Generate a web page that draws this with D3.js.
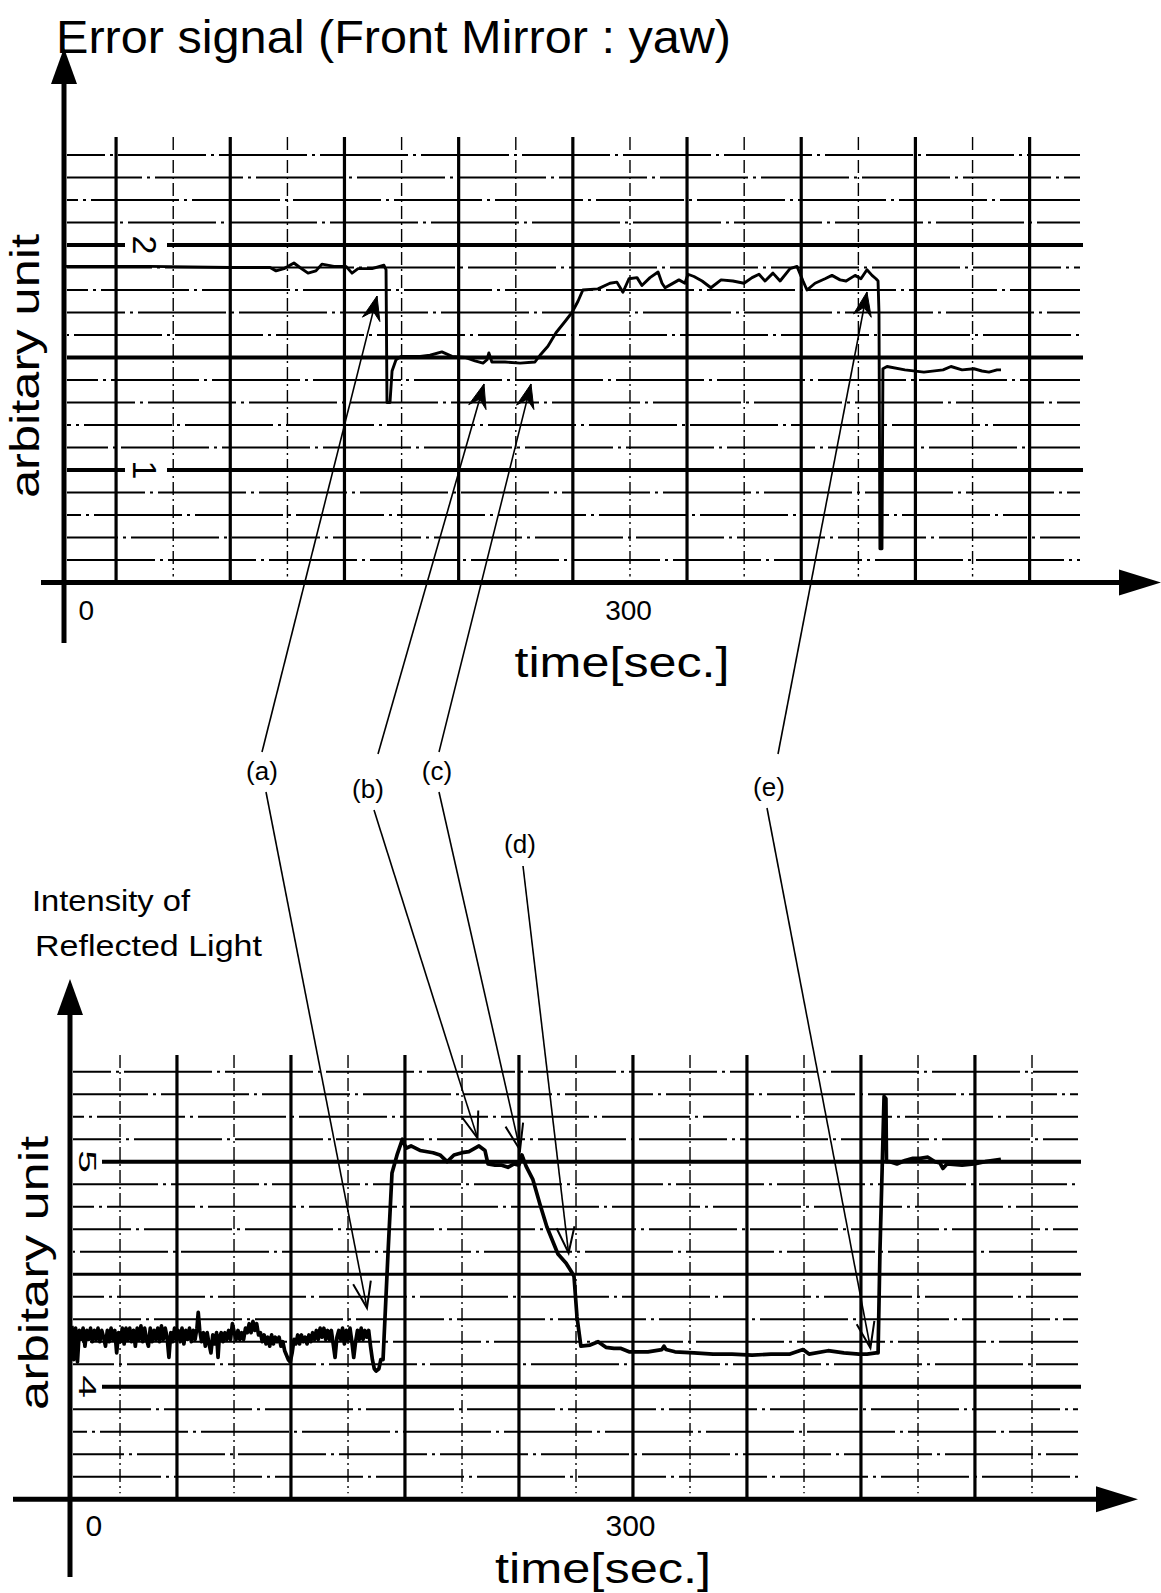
<!DOCTYPE html>
<html>
<head>
<meta charset="utf-8">
<script src="https://cdn.jsdelivr.net/npm/d3@7"></script>
<style>
  body { margin: 0; background: #fff; }
  svg { display: block; }
  text { font-family: "Liberation Sans", Arial, Helvetica, sans-serif; fill: #000; }
</style>
</head>
<body>
<div id="chart"></div>
<script>
// ---- data (time in sec, value in arbitrary units) ----
const topTrace = [
  [0.5,1.905],[45.7,1.905],[88.3,1.9],[109.6,1.9],[112.8,1.885],[117,1.895],[122.3,1.92],[125.5,1.9],
  [129.8,1.875],[134,1.885],[137.2,1.915],[143.6,1.905],[150,1.905],[153.2,1.875],[156.4,1.895],
  [163.8,1.895],[170.2,1.91],[171.3,1.89],[171.8,1.3],[173.4,1.3],[174.5,1.44],[176.6,1.49],
  [179.3,1.505],[189.4,1.505],[194.7,1.51],[201,1.525],[206.4,1.505],[213.3,1.5],[218.6,1.485],
  [222.9,1.475],[225,1.49],[226,1.52],[227.6,1.48],[234.6,1.48],[242.6,1.475],[250.5,1.48],
  [253.2,1.51],[257.4,1.55],[261.7,1.61],[266.5,1.66],[270.2,1.7],[273.4,1.75],[276,1.8],[284,1.805],
  [290.4,1.83],[294.1,1.835],[297.3,1.79],[300.5,1.85],[304.8,1.855],[307.4,1.82],[311.7,1.855],
  [316,1.88],[318.1,1.83],[319.7,1.81],[322.9,1.825],[327.1,1.845],[330.3,1.83],[331.9,1.87],
  [335.1,1.86],[339.4,1.84],[344.1,1.81],[349.5,1.845],[355.8,1.84],[361.7,1.83],[366,1.855],
  [369.7,1.87],[372.9,1.84],[377.1,1.875],[380.9,1.84],[386.2,1.895],[389.9,1.905],[393.1,1.84],
  [395.2,1.8],[399.5,1.83],[404.8,1.85],[408.5,1.865],[412.8,1.845],[416,1.84],[420.8,1.865],
  [423.9,1.85],[427.1,1.89],[429.8,1.865],[431.9,1.85],[433,1.84],[433.5,1.7],[434,0.65],[435.1,0.65],
  [435.6,1.45],[437.8,1.46],[447.3,1.445],[457.4,1.435],[467.6,1.445],[471.8,1.46],[477.7,1.445],
  [484,1.45],[488.3,1.44],[492,1.435],[496.3,1.445],[498.4,1.445]
];

const bottomTrace = [
  [1,4.27],[2,4.12],[3,4.26],[4,4.11],[5,4.25],[6,4.21],[7,4.26],[8,4.18],[9,4.25],[10,4.21],
  [11,4.26],[12,4.2],[13,4.25],[14,4.21],[15,4.26],[16,4.2],[17,4.25],[18,4.22],[19,4.18],[20,4.25],
  [21,4.2],[22,4.26],[23,4.21],[24,4.25],[25,4.15],[26,4.24],[27,4.2],[28,4.26],[29,4.19],[30,4.26],
  [31,4.21],[32,4.26],[33,4.2],[34,4.25],[35,4.18],[36,4.26],[37,4.21],[38,4.27],[39,4.2],[40,4.26],
  [41,4.21],[42,4.18],[43,4.26],[44,4.2],[45,4.25],[46,4.21],[47,4.26],[48,4.2],[49,4.27],[50,4.21],
  [51,4.26],[52,4.22],[53,4.13],[54,4.24],[55,4.2],[56,4.26],[57,4.21],[58,4.25],[59,4.2],[60,4.26],
  [61,4.19],[62,4.25],[63,4.21],[64,4.26],[65,4.2],[66,4.25],[67,4.21],[68,4.26],[68.7,4.33],[69.5,4.25],
  [70.5,4.2],[71.5,4.24],[72.5,4.18],[73.5,4.24],[74.5,4.19],[75.5,4.15],[76.5,4.23],[77.5,4.19],
  [78.5,4.24],[79.3,4.13],[80,4.22],[81,4.24],[82,4.2],[83,4.24],[84,4.21],[85,4.25],[86,4.21],
  [87,4.28],[88,4.24],[89,4.21],[90,4.25],[91,4.21],[92,4.24],[93,4.21],[94,4.26],[95,4.24],[96,4.28],
  [97,4.24],[98,4.29],[99,4.25],[100,4.28],[101,4.23],[102,4.24],[103,4.2],[104,4.23],[105,4.19],
  [106,4.22],[107,4.18],[108,4.23],[109,4.19],[110,4.22],[111,4.2],[112,4.22],[113,4.18],[114,4.2],
  [115,4.16],[116,4.14],[117,4.12],[118,4.11],[119,4.15],[120,4.21],[121,4.19],[122,4.23],[123,4.19],
  [124,4.23],[125,4.2],[126,4.22],[127,4.19],[128,4.23],[129,4.2],[130,4.24],[131,4.21],[132,4.25],
  [133,4.21],[134,4.26],[135,4.22],[136,4.26],[137,4.21],[138,4.25],[139,4.21],[140,4.25],[141,4.19],
  [142,4.13],[143,4.22],[144,4.25],[145,4.21],[146,4.26],[147,4.19],[148,4.25],[149,4.21],[150,4.26],
  [151,4.2],[152,4.13],[153,4.2],[154,4.25],[155,4.21],[156,4.26],[157,4.21],[158,4.25],[159,4.22],
  [160,4.25],[161,4.18],[162,4.12],[163,4.08],[164,4.07],[165.5,4.08],[166.5,4.12],
  [167.7,4.12],[170.4,4.6],[172.5,4.95],[175.2,5.03],[178.1,5.1],[180,5.06],[182.7,5.07],[187.5,5.05],
  [194.5,5.04],[198.2,5.03],[202,5.0],[205.7,5.03],[210,5.04],[213.7,5.045],[217,5.06],[219.1,5.07],
  [222.3,5.05],[223.9,4.99],[227.7,4.985],[230.9,4.985],[234.6,4.975],[237.9,4.99],[240.5,4.985],
  [242.1,5.03],[244.3,4.98],[248,4.92],[251.8,4.81],[255.5,4.71],[261.4,4.59],[265.7,4.55],
  [268.7,4.51],[270,4.49],[271.6,4.31],[273.7,4.18],[278.6,4.185],[282.9,4.2],[287.1,4.175],
  [291.4,4.17],[295.2,4.17],[299.5,4.155],[309.6,4.155],[317.1,4.165],[318.2,4.18],[319.3,4.165],
  [324.1,4.155],[334.3,4.15],[344.5,4.145],[354.6,4.145],[365.4,4.14],[375.5,4.145],[385.7,4.145],
  [392.7,4.165],[395.9,4.145],[406.1,4.16],[414.6,4.15],[422.7,4.145],[427,4.145],[431.8,4.15],
  [432.9,4.15],[433.9,4.6],[435.5,5.1],[436.1,5.29],[437.1,5.28],[437.4,5.0],[439.3,5.0],[443,4.99],
  [447.3,5.005],[451.6,5.015],[455.4,5.015],[459.6,5.02],[463.4,5.0],[466,4.995],[467.6,4.97],
  [469.8,4.99],[477.9,4.985],[484.3,4.99],[490.2,5.0],[498.7,5.01]
];

const timeTicks = [0, 300];
const timeTickLabels = ["0", "300"];
const topLevelMarks = [2, 1];
const topLevelLabels = ["2", "1"];
const bottomLevelMarks = [5, 4];
const bottomLevelLabels = ["5", "4"];

const annLabels = ["(a)", "(b)", "(c)", "(d)", "(e)"];
// arrow tips, [time, value] on each chart
const annTopTips = [[166.5,1.773],[223.4,1.382],[248.4,1.382],null,[427.1,1.791]];
const annBottomTips = [[159.1,4.35],[218.3,5.105],[241.1,5.052],[267.1,4.594],[428.8,4.172]];

// ---- layout ----
const W = 1161, H = 1593;
const annLabelPos = [[262,772],[368,790],[437,772],[520,845],[769,788]];
const annUpStart = [[262,752],[378,754],[439,752],null,[778,754]];
const annDownStart = [[266,792],[374,810],[439,792],[523,866],[767,808]];

const svg = d3.select("#chart").append("svg")
  .attr("width", W).attr("height", H);

const panels = [
  {
    x: d3.scaleLinear().domain([0, 300]).range([64, 628]),
    y: d3.scaleLinear().domain([1, 2]).range([470, 245]),
    trace: topTrace, traceW: 2.9,
    vAxis: 0.5, vTop: 2.4, majors: [1, 1.5, 2],
    gridL: 67, gridR: 1080, lineTop: 137,
    thick0: 27.7, dash0: 58.1, step: 60.74, nThick: 9, nDash: 8,
    axisX: 64, yAxisTip: 48, yAxisEnd: 643, xAxisStart: 41, xAxisTip: 1161,
    tickPad: 18, tickSize: 28, zeroDx: 14,
    levels: topLevelMarks, levelLabels: topLevelLabels, levelX: 145, levelFont: 34, levelStretch: 1,
    labelLineStart: 67,
    ylabX: 39, ylabY: 366, ylabLen: 264,
    timeX: 622, timeY: 677, timeLen: 215
  },
  {
    x: d3.scaleLinear().domain([0, 300]).range([70, 630]),
    y: d3.scaleLinear().domain([4, 5]).range([1386.7, 1161.7]),
    trace: bottomTrace, traceW: 3.7,
    vAxis: 3.5, vTop: 5.4, majors: [4, 4.5, 5],
    gridL: 73, gridR: 1078, lineTop: 1055,
    thick0: 57.3, dash0: 26.8, step: 61.07, nThick: 8, nDash: 9,
    axisX: 70, yAxisTip: 979, yAxisEnd: 1577, xAxisStart: 13, xAxisTip: 1138,
    tickPad: 16, tickSize: 30, zeroDx: 15,
    levels: bottomLevelMarks, levelLabels: bottomLevelLabels, levelX: 87, levelFont: 24, levelStretch: 1.7,
    labelLineStart: 102,
    ylabX: 48, ylabY: 1273, ylabLen: 274,
    timeX: 603, timeY: 1583, timeLen: 216
  }
];

panels.forEach((p, pi) => {
  const g = svg.append("g");
  const yAxisPx = p.y(p.vAxis);

  // chart paper: thin horizontal lines
  const levels = d3.range(Math.round(p.vAxis * 10) + 1, Math.round(p.vTop * 10) + 1).map(d => d / 10);
  const isMajor = v => p.majors.some(m => Math.abs(m - v) < 1e-6);
  g.selectAll(".hthin").data(levels.filter(v => !isMajor(v))).enter().append("line")
    .attr("x1", p.gridL).attr("x2", p.gridR)
    .attr("y1", d => p.y(d)).attr("y2", d => p.y(d))
    .attr("stroke", "#000").attr("stroke-width", 1.9)
    .attr("stroke-dasharray", "88,5,3,5")
    .attr("stroke-dashoffset", (d, i) => i * 37);

  // vertical lines
  const thickT = d3.range(p.nThick).map(k => p.thick0 + k * p.step);
  const dashT = d3.range(p.nDash).map(k => p.dash0 + k * p.step);
  g.selectAll(".vdash").data(dashT).enter().append("line")
    .attr("x1", d => p.x(d)).attr("x2", d => p.x(d))
    .attr("y1", p.lineTop).attr("y2", yAxisPx - 6)
    .attr("stroke", "#000").attr("stroke-width", 1.4)
    .attr("stroke-dasharray", "13,4,2,4");
  g.selectAll(".vthick").data(thickT).enter().append("line")
    .attr("x1", d => p.x(d)).attr("x2", d => p.x(d))
    .attr("y1", p.lineTop).attr("y2", yAxisPx)
    .attr("stroke", "#000").attr("stroke-width", 3.2);

  // major horizontal lines (labelled ones start after the digit on the lower paper)
  const labelled = v => p.levels.some(m => Math.abs(m - v) < 1e-6);
  g.selectAll(".hmajor").data(p.majors).enter().append("line")
    .attr("x1", d => labelled(d) ? p.labelLineStart : p.gridL).attr("x2", p.gridR + 3)
    .attr("y1", d => p.y(d)).attr("y2", d => p.y(d))
    .attr("stroke", "#000").attr("stroke-width", d => labelled(d) || pi === 0 ? 4 : 3);

  // level labels on the paper (rotated digits)
  p.levels.forEach((v, i) => {
    if (pi === 0) {
      g.append("rect").attr("x", p.levelX - 20).attr("y", p.y(v) - 4)
        .attr("width", 42).attr("height", 8).attr("fill", "#fff");
    }
    g.append("text")
      .attr("transform", `translate(${p.levelX},${p.y(v)}) rotate(90) scale(${p.levelStretch},1)`)
      .attr("text-anchor", "middle").attr("dominant-baseline", "central")
      .attr("font-size", p.levelFont)
      .text(p.levelLabels[i]);
  });

  // trace
  const line = d3.line().x(d => p.x(d[0])).y(d => p.y(d[1]));
  g.append("path").datum(p.trace)
    .attr("d", line)
    .attr("fill", "none").attr("stroke", "#000")
    .attr("stroke-width", p.traceW).attr("stroke-linejoin", "round");

  // axes with arrows
  g.append("line").attr("x1", p.axisX).attr("x2", p.axisX)
    .attr("y1", p.yAxisTip + 30).attr("y2", p.yAxisEnd)
    .attr("stroke", "#000").attr("stroke-width", 5);
  g.append("path")
    .attr("d", `M${p.axisX},${p.yAxisTip} L${p.axisX - 13},${p.yAxisTip + 36} L${p.axisX + 13},${p.yAxisTip + 36} Z`)
    .attr("fill", "#000");
  g.append("line").attr("x1", p.xAxisStart).attr("x2", p.xAxisTip - 40)
    .attr("y1", yAxisPx).attr("y2", yAxisPx)
    .attr("stroke", "#000").attr("stroke-width", 5);
  g.append("path")
    .attr("d", `M${p.xAxisTip},${yAxisPx} L${p.xAxisTip - 42},${yAxisPx - 13} L${p.xAxisTip - 42},${yAxisPx + 13} Z`)
    .attr("fill", "#000");

  // time ticks
  const ax = d3.axisBottom(p.x).tickValues(timeTicks)
    .tickFormat((d, i) => timeTickLabels[i]).tickSize(0).tickPadding(p.tickPad);
  const axG = g.append("g").attr("transform", `translate(0,${yAxisPx})`).call(ax);
  axG.select(".domain").remove();
  axG.selectAll("text").attr("font-size", p.tickSize)
    .attr("font-family", "Liberation Sans, Arial, sans-serif").attr("fill", "#000");
  axG.selectAll(".tick").filter(d => d === 0).select("text")
    .attr("text-anchor", "start").attr("dx", p.zeroDx);

  // axis titles
  g.append("text")
    .attr("transform", `translate(${p.ylabX},${p.ylabY}) rotate(-90)`)
    .attr("text-anchor", "middle").attr("font-size", 40)
    .attr("textLength", p.ylabLen).attr("lengthAdjust", "spacingAndGlyphs")
    .text("arbitary  unit");
  g.append("text")
    .attr("x", p.timeX - p.timeLen / 2).attr("y", p.timeY)
    .attr("font-size", 42)
    .attr("textLength", p.timeLen).attr("lengthAdjust", "spacingAndGlyphs")
    .text("time[sec.]");
});

// title and bottom y label
svg.append("text").attr("x", 56).attr("y", 53)
  .attr("font-size", 47).attr("textLength", 675).attr("lengthAdjust", "spacingAndGlyphs")
  .text("Error signal (Front Mirror : yaw)");
svg.append("text").attr("x", 32).attr("y", 911)
  .attr("font-size", 29).attr("textLength", 158).attr("lengthAdjust", "spacingAndGlyphs")
  .text("Intensity of");
svg.append("text").attr("x", 35).attr("y", 956)
  .attr("font-size", 29).attr("textLength", 227).attr("lengthAdjust", "spacingAndGlyphs")
  .text("Reflected Light");

// ---- annotations (a)-(e) ----
function headPath(tip, from, len, hw, filled) {
  const dx = tip[0] - from[0], dy = tip[1] - from[1], L = Math.hypot(dx, dy);
  const ux = dx / L, uy = dy / L, px = -uy, py = ux;
  const bx = tip[0] - ux * len, by = tip[1] - uy * len;
  const l = [bx + px * hw, by + py * hw], r = [bx - px * hw, by - py * hw];
  if (filled) {
    const n = [tip[0] - ux * len * 0.65, tip[1] - uy * len * 0.65];
    return `M${tip}L${l}L${n}L${r}Z`;
  }
  return `M${l}L${tip}L${r}`;
}

const ann = svg.append("g");
annLabels.forEach((lab, i) => {
  ann.append("text").attr("x", annLabelPos[i][0]).attr("y", annLabelPos[i][1] + 8)
    .attr("text-anchor", "middle").attr("font-size", 26).text(lab);

  if (annTopTips[i]) {
    const tip = [panels[0].x(annTopTips[i][0]), panels[0].y(annTopTips[i][1])];
    ann.append("line").attr("x1", annUpStart[i][0]).attr("y1", annUpStart[i][1])
      .attr("x2", tip[0]).attr("y2", tip[1])
      .attr("stroke", "#000").attr("stroke-width", 1.6);
    ann.append("path").attr("d", headPath(tip, annUpStart[i], 24, 9, true))
      .attr("fill", "#000").attr("stroke", "#000").attr("stroke-width", 1);
  }
  const tipB = [panels[1].x(annBottomTips[i][0]), panels[1].y(annBottomTips[i][1])];
  ann.append("line").attr("x1", annDownStart[i][0]).attr("y1", annDownStart[i][1])
    .attr("x2", tipB[0]).attr("y2", tipB[1])
    .attr("stroke", "#000").attr("stroke-width", 1.6);
  ann.append("path").attr("d", headPath(tipB, annDownStart[i], 26, 9, false))
    .attr("fill", "none").attr("stroke", "#000").attr("stroke-width", 2);
});
</script>
</body>
</html>
